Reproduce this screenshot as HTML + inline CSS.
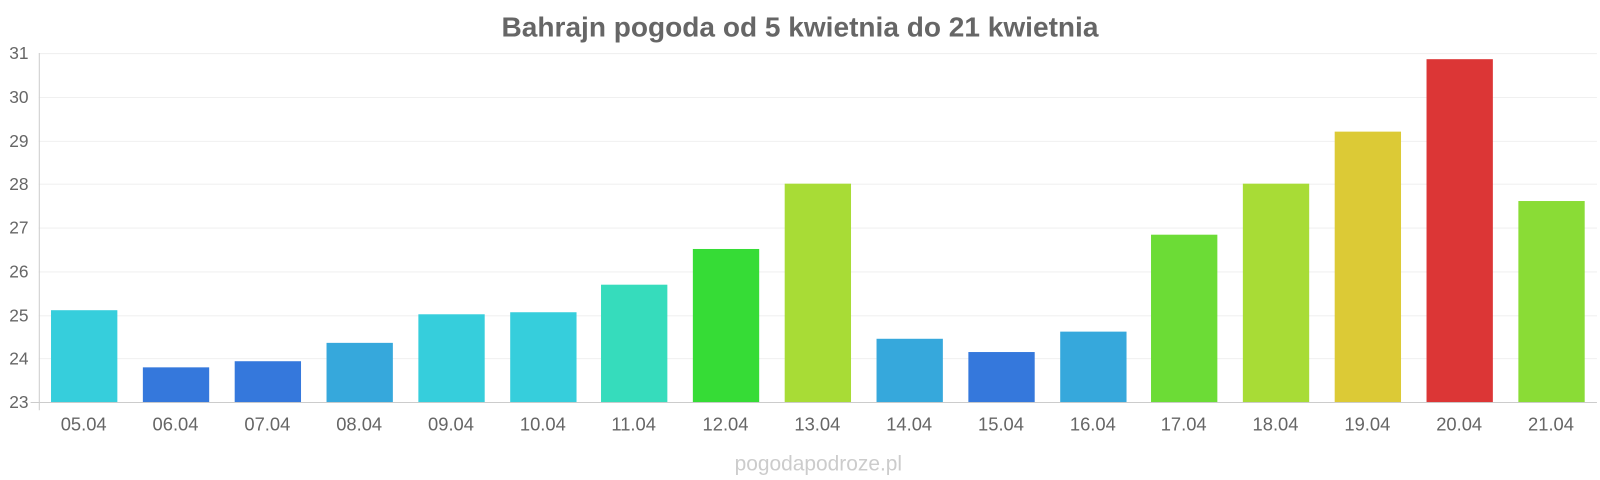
<!DOCTYPE html>
<html><head><meta charset="utf-8"><style>
body{margin:0;background:#fff;font-family:"Liberation Sans",sans-serif}
svg{display:block}
</style></head><body>
<svg width="1600" height="480" viewBox="0 0 1568 470.4" preserveAspectRatio="none" xmlns="http://www.w3.org/2000/svg" font-family="Liberation Sans, sans-serif">
<rect width="1568" height="470.4" fill="#fff"/>
<text x="784" y="36" text-anchor="middle" font-size="27.5" font-weight="bold" fill="#666">Bahrajn pogoda od 5 kwietnia do 21 kwietnia</text>
<g stroke="#f0f0f0" stroke-width="1">
<line x1="38" x2="1565" y1="52.5" y2="52.5"/><line x1="38" x2="1565" y1="95.5" y2="95.5"/>
<line x1="38" x2="1565" y1="138.5" y2="138.5"/><line x1="38" x2="1565" y1="180.5" y2="180.5"/>
<line x1="38" x2="1565" y1="223.5" y2="223.5"/><line x1="38" x2="1565" y1="266.5" y2="266.5"/>
<line x1="38" x2="1565" y1="309.5" y2="309.5"/><line x1="38" x2="1565" y1="351.5" y2="351.5"/>
</g>
<line x1="38.5" x2="38.5" y1="52" y2="402" stroke="#ccc"/>
<line x1="30" x2="1565" y1="394.5" y2="394.5" stroke="#ccc"/>
<g font-size="17" fill="#666" text-anchor="end">
<text x="28" y="58">31</text><text x="28" y="101">30</text><text x="28" y="144">29</text><text x="28" y="186">28</text>
<text x="28" y="229">27</text><text x="28" y="272">26</text><text x="28" y="315">25</text><text x="28" y="357">24</text><text x="28" y="400">23</text>
</g>
<g>
<rect x="50" y="304" width="65" height="90" fill="#36cedc"/>
<rect x="140" y="360" width="65" height="34" fill="#3578dc"/>
<rect x="230" y="354" width="65" height="40" fill="#3578dc"/>
<rect x="320" y="336" width="65" height="58" fill="#36a8dc"/>
<rect x="410" y="308" width="65" height="86" fill="#36cedc"/>
<rect x="500" y="306" width="65" height="88" fill="#36cedc"/>
<rect x="589" y="279" width="65" height="115" fill="#36dcbc"/>
<rect x="679" y="244" width="65" height="150" fill="#36dc36"/>
<rect x="769" y="180" width="65" height="214" fill="#a8dc36"/>
<rect x="859" y="332" width="65" height="62" fill="#36a8dc"/>
<rect x="949" y="345" width="65" height="49" fill="#3578dc"/>
<rect x="1039" y="325" width="65" height="69" fill="#36a8dc"/>
<rect x="1128" y="230" width="65" height="164" fill="#6cdc36"/>
<rect x="1218" y="180" width="65" height="214" fill="#a8dc36"/>
<rect x="1308" y="129" width="65" height="265" fill="#dcca36"/>
<rect x="1398" y="58" width="65" height="336" fill="#dc3636"/>
<rect x="1488" y="197" width="65" height="197" fill="#8adc36"/>
</g>
<g font-size="18" fill="#666" text-anchor="middle">
<text x="82" y="422">05.04</text><text x="172" y="422">06.04</text><text x="262" y="422">07.04</text>
<text x="352" y="422">08.04</text><text x="442" y="422">09.04</text><text x="532" y="422">10.04</text>
<text x="621" y="422">11.04</text><text x="711" y="422">12.04</text><text x="801" y="422">13.04</text>
<text x="891" y="422">14.04</text><text x="981" y="422">15.04</text><text x="1071" y="422">16.04</text>
<text x="1160" y="422">17.04</text><text x="1250" y="422">18.04</text><text x="1340" y="422">19.04</text>
<text x="1430" y="422">20.04</text><text x="1520" y="422">21.04</text>
</g>
<text x="802" y="461" text-anchor="middle" font-size="20.5" fill="#ccc">pogodapodroze.pl</text>
</svg>
</body></html>
